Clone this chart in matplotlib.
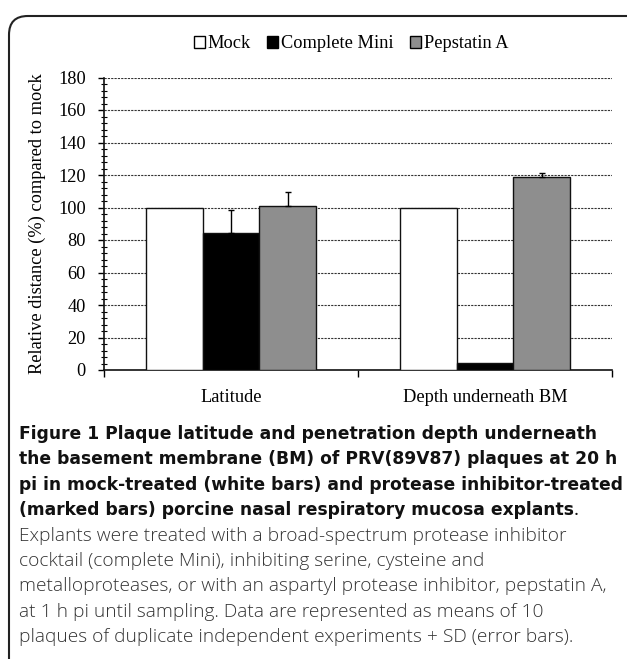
import matplotlib
matplotlib.use("Agg")
import matplotlib.pyplot as plt
import numpy as np
from matplotlib.patches import Patch, FancyBboxPatch

categories = ["Latitude", "Depth underneath BM"]
series_names = ["Mock", "Complete Mini", "Pepstatin A"]
mock = [100, 100]
complete_mini = [84.5, 4.5]
pepstatin_a = [100.9, 118.6]
mock_sd = [0, 0]
complete_mini_sd = [14, 0]
pepstatin_a_sd = [8.8, 2.6]
y_ticks = [0, 20, 40, 60, 80, 100, 120, 140, 160, 180]

values = [mock, complete_mini, pepstatin_a]
errors = [mock_sd, complete_mini_sd, pepstatin_a_sd]
colors = ["white", "black", "#8e8e8e"]

W, H = 627, 659
fig = plt.figure(figsize=(W / 100, H / 100), dpi=100)

serif = ["Liberation Serif", "DejaVu Serif"]
sfs = 13.2

ax = fig.add_axes([104 / W, 1 - 370 / H, (612 - 104) / W, (370 - 77.5) / H])
x = np.arange(len(categories))
bw = 0.223
for i, (vals, errs, c) in enumerate(zip(values, errors, colors)):
    pos = x + (i - 1) * bw
    ax.bar(pos, vals, width=bw, color=c, edgecolor="#111111", linewidth=1.0, zorder=3)
    yerr = np.array([np.zeros(len(errs)), errs])
    mask = np.array(errs) > 0
    ax.errorbar(pos[mask], np.array(vals)[mask], yerr=yerr[:, mask], fmt="none",
                ecolor="black", elinewidth=1.0, capsize=2.5, capthick=1.0, zorder=4)

ax.set_xlim(-0.5, 1.5)
ax.set_ylim(0, 180)
ax.set_yticks(y_ticks)
ax.set_yticks(np.arange(0, 181, 4), minor=True)
ax.set_yticklabels([str(t) for t in y_ticks], fontfamily=serif, fontsize=sfs)
ax.set_xticks([-0.5, 0.5, 1.5])
ax.set_xticklabels(["", "", ""])
ax.set_xticks(x, minor=True)
ax.set_xticklabels(categories, minor=True, fontfamily=serif, fontsize=sfs)
ax.tick_params(axis="x", which="minor", length=0, pad=14)
ax.tick_params(axis="x", which="major", direction="out", length=5, width=1)
ax.tick_params(axis="y", which="major", direction="out", length=4, width=1, pad=9)
ax.tick_params(axis="y", which="minor", direction="inout", length=4, width=0.8)
for t in y_ticks[1:]:
    ax.axhline(t, color="#333333", linestyle=(0, (2, 1)), linewidth=0.8, zorder=1)
for s in ["top", "right"]:
    ax.spines[s].set_visible(False)
for s in ["left", "bottom"]:
    ax.spines[s].set_linewidth(1.2)
    ax.spines[s].set_color("#111111")
ax.set_ylabel("Relative distance (%) compared to mock", fontfamily=serif, fontsize=sfs)
ax.yaxis.set_label_coords(-0.115, 0.5)

handles = [Patch(facecolor=c, edgecolor="black", linewidth=1.0) for c in colors]
fig.legend(handles, series_names, loc="center", bbox_to_anchor=(0.56, 1 - 44 / H), ncol=3,
           frameon=False, prop={"family": serif, "size": sfs}, handlelength=0.6,
           handleheight=0.6, handletextpad=0.15, columnspacing=0.9)

# border
border = FancyBboxPatch((9 / W, -0.1), 1.2, 1 - 16 / H + 0.1, boxstyle="round,pad=0,rounding_size=0.03",
                        transform=fig.transFigure, facecolor="none", edgecolor="#222222",
                        linewidth=1.5, mutation_aspect=W / H)
fig.patches.append(border)

# caption
bold_font = ["DejaVu Sans"]
norm_font = ["Open Sans", "DejaVu Sans"]
bold_lines = [
    "Figure 1 Plaque latitude and penetration depth underneath",
    "the basement membrane (BM) of PRV(89V87) plaques at 20 h",
    "pi in mock-treated (white bars) and protease inhibitor-treated",
    "(marked bars) porcine nasal respiratory mucosa explants",
]
normal_lines = [
    "Explants were treated with a broad-spectrum protease inhibitor",
    "cocktail (complete Mini), inhibiting serine, cysteine and",
    "metalloproteases, or with an aspartyl protease inhibitor, pepstatin A,",
    "at 1 h pi until sampling. Data are represented as means of 10",
    "plaques of duplicate independent experiments + SD (error bars).",
]
y0 = 434
dy = 25.4
bfs = 12.3
nfs = 13.8
last = None
for i, line in enumerate(bold_lines):
    last = fig.text(19 / W, 1 - (y0 + i * dy) / H, line, fontfamily=bold_font, fontweight="bold",
                    fontsize=bfs, va="center", ha="left", color="#111111")
ax.annotate(".", xy=(1, 0), xycoords=last, va="bottom", ha="left", fontfamily=norm_font,
            fontsize=nfs, color="#111111", annotation_clip=False)
for j, line in enumerate(normal_lines):
    fig.text(19 / W, 1 - (y0 + (len(bold_lines) + j) * dy) / H, line, fontfamily=norm_font,
             fontweight="light", fontsize=nfs, va="center", ha="left", color="#333333")

fig.savefig("out.png", dpi=100)
